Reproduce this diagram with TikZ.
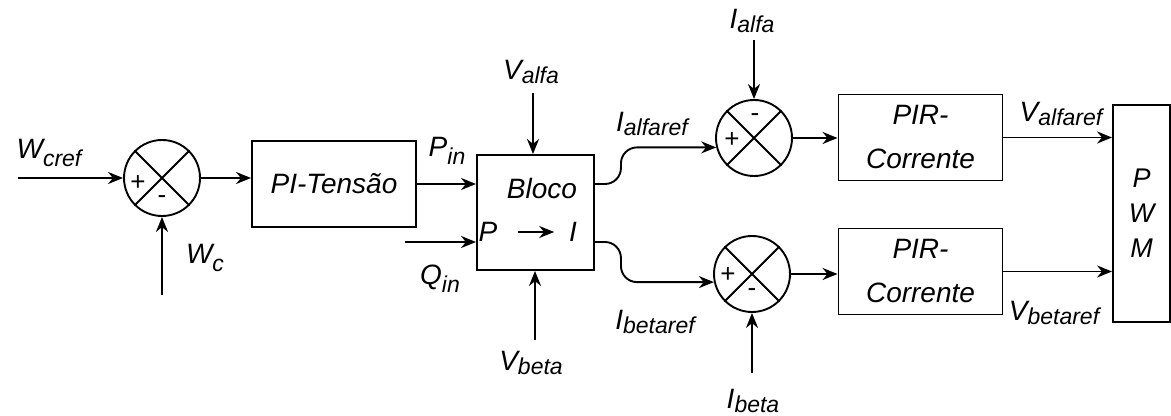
\documentclass[tikz,border=0pt]{standalone}
\usepackage{fontspec}
\setmainfont{Liberation Sans}
\usetikzlibrary{arrows.meta,calc}
\tikzset{sig/.style={-{Stealth[length=7.5pt,width=6pt]}},
  blk/.style={draw, minimum width=82pt, minimum height=43pt, font=\fontsize{14}{22}\selectfont\itshape, align=center},
  sumj/.style={draw, circle, minimum size=38pt, inner sep=0pt},
  lab/.style={font=\fontsize{14}{16}\selectfont\itshape, inner sep=0pt},
  txt/.style={font=\fontsize{14}{16}\selectfont\itshape, inner sep=0pt},
  sgn/.style={font=\fontsize{13}{15}\selectfont, inner sep=0pt}}
\newcommand{\lbl}[3][0.25ex]{#2\raisebox{-#1}{\fontsize{11.5}{12}\selectfont #3}}

\begin{document}
\begin{tikzpicture}[x=0.5pt, y=-0.5pt, line width=0.95pt]
  \useasboundingbox (0,0) rectangle (1171,416);
  % blocks
  \node[sumj] (s1) at (162,178) {};
  \node[blk] (pit) at (334,184) {PI-Tensão};
  \node[blk, minimum width=58.5pt, minimum height=57.5pt] (bloco) at (535.5,212.5) {};
  \node[sumj] (s2) at (754,138) {};
  \node[sumj] (s3) at (752,274) {};
  \node[blk] (pir1) at (920.5,137.5) {PIR-\\Corrente};
  \node[blk] (pir2) at (920.5,271.5) {PIR-\\Corrente};
  \node[blk, minimum width=28.5pt, minimum height=108.5pt, font=\fontsize{13.5}{17.5}\selectfont\itshape] (pwm) at (1141.5,213.5) {P\\W\\M};
  % summing junctions
  \draw (s1.45) -- (s1.225) (s1.135) -- (s1.315);
  \draw (s2.45) -- (s2.225) (s2.135) -- (s2.315);
  \draw (s3.45) -- (s3.225) (s3.135) -- (s3.315);
  \node[sgn] (s1p) at ($(s1)+(-24,5)$) {+};
  \node[sgn] (s1m) at ($(s1)+(0,22)$) {-};
  \node[sgn] (s2p) at ($(s2)+(-22,2)$) {+};
  \node[sgn] (s2m) at ($(s2)+(1,-20)$) {-};
  \node[sgn] (s3p) at ($(s3)+(-24,1)$) {+};
  \node[sgn] (s3m) at ($(s3)+(0,19)$) {-};
  % bloco contents
  \node[txt] (blocot) at (542,188) {Bloco};
  \node[txt] (pp) at (488,232) {P};
  \node[txt] (ii) at (573,232) {I};
  \draw[sig] ($(pp.east)+(20,0)$) -- ($(ii.west)+(-14,0)$);
  % inputs
  \coordinate (wcref) at (18,178);
  \coordinate (wc) at (162,295);
  \coordinate (qin) at (405,242);
  \coordinate (valfa) at (533,93);
  \coordinate (vbeta) at (535,340);
  \coordinate (ialfa) at (754,40);
  \coordinate (ibeta) at (752,373);
  \draw[sig] (wcref) -- (s1.west);
  \draw[sig] (wc) -- (s1.south);
  \draw[sig] (s1.east) -- (s1.east -| pit.west);
  \draw[sig] (pit.east) -- (pit.east -| bloco.west);
  \draw[sig] (qin) -- (qin -| bloco.west);
  \draw[sig] (valfa) -- (valfa |- bloco.north);
  \draw[sig] (vbeta) -- (vbeta |- bloco.south);
  % current references
  \draw[sig, rounded corners=8pt] ($(bloco.east)+(0,-28.5)$) -- ++(26,0) |- (s2.194);
  \draw[sig, rounded corners=8pt] ($(bloco.east)+(0,29.5)$) -- ++(26,0) |- (s3.192);
  \draw[sig] (ialfa) -- (s2.north);
  \draw[sig] (ibeta) -- (s3.south);
  \draw[sig] (s2.east) -- (s2.east -| pir1.west);
  \draw[sig] (s3.east) -- (s3.east -| pir2.west);
  \draw[sig] (pir1.east) -- (pir1.east -| pwm.west);
  \draw[sig] (pir2.east) -- (pir2.east -| pwm.west);
  % labels
  \node[lab] (lwcref) at (49,153) {\lbl[0.55ex]{W}{cref}};
  \node[lab] (lwc) at (205,258) {\lbl[0.55ex]{W}{c}};
  \node[lab] (lpin) at (447,151) {\lbl[0.55ex]{P}{in}};
  \node[lab] (lqin) at (440,279) {\lbl[0.55ex]{Q}{in}};
  \node[lab] (lvalfa) at (531,72) {\lbl{V}{alfa}};
  \node[lab] (lvbeta) at (531,363) {\lbl{V}{beta}};
  \node[lab] (lialfaref) at (652,124) {\lbl{I}{alfaref}};
  \node[lab] (libetaref) at (655,322) {\lbl{I}{betaref}};
  \node[lab] (lialfa) at (752,21) {\lbl{I}{alfa}};
  \node[lab] (libeta) at (753,401) {\lbl{I}{beta}};
  \node[lab] (lvalfaref) at (1061,114) {\lbl{V}{alfaref}};
  \node[lab] (lvbetaref) at (1054,313) {\lbl{V}{betaref}};
\end{tikzpicture}
\end{document}
